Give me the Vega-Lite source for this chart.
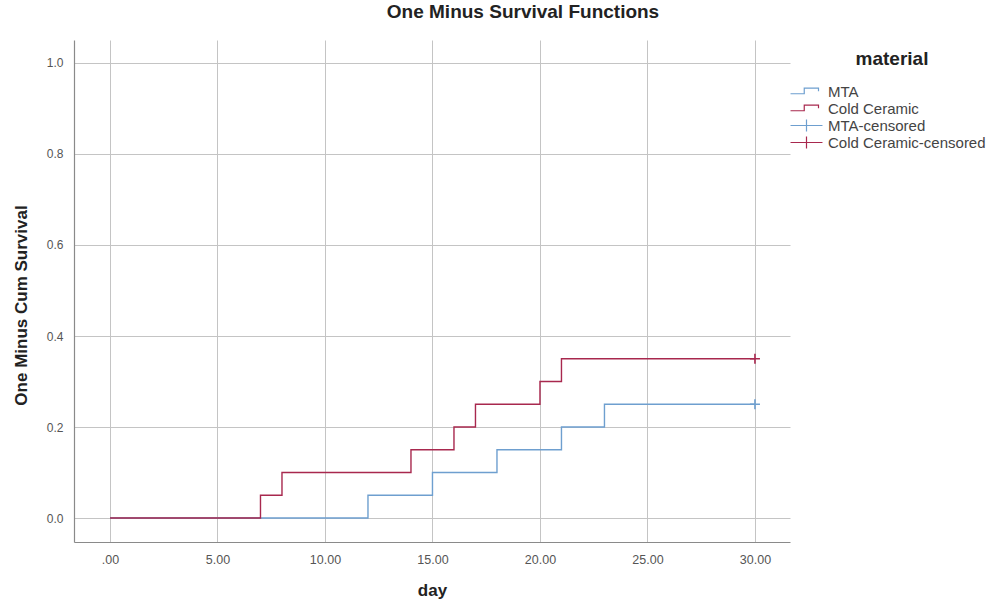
{
  "$schema": "https://vega.github.io/schema/vega-lite/v6.json",
  "autosize": {"type": "none"},
  "padding": {"left": 74, "top": 40, "right": 207, "bottom": 62},
  "width": 716,
  "height": 502,
  "background": "white",
  "title": {
    "text": "One Minus Survival Functions",
    "anchor": "middle",
    "dx": 91,
    "offset": 18,
    "fontSize": 19,
    "fontWeight": "bold",
    "font": "Liberation Sans",
    "color": "#222222"
  },
  "datasets": {
    "curves": [
      {"day": 0, "value": 0, "material": "MTA"},
      {"day": 12, "value": 0.05, "material": "MTA"},
      {"day": 15, "value": 0.10, "material": "MTA"},
      {"day": 18, "value": 0.15, "material": "MTA"},
      {"day": 21, "value": 0.20, "material": "MTA"},
      {"day": 23, "value": 0.25, "material": "MTA"},
      {"day": 30, "value": 0.25, "material": "MTA"},
      {"day": 0, "value": 0, "material": "Cold Ceramic"},
      {"day": 7, "value": 0.05, "material": "Cold Ceramic"},
      {"day": 8, "value": 0.10, "material": "Cold Ceramic"},
      {"day": 14, "value": 0.15, "material": "Cold Ceramic"},
      {"day": 16, "value": 0.20, "material": "Cold Ceramic"},
      {"day": 17, "value": 0.25, "material": "Cold Ceramic"},
      {"day": 20, "value": 0.30, "material": "Cold Ceramic"},
      {"day": 21, "value": 0.35, "material": "Cold Ceramic"},
      {"day": 30, "value": 0.35, "material": "Cold Ceramic"}
    ],
    "censored": [
      {"day": 30, "value": 0.25, "material": "MTA-censored"},
      {"day": 30, "value": 0.35, "material": "Cold Ceramic-censored"}
    ]
  },
  "config": {
    "view": {"stroke": null},
    "axis": {
      "labelFont": "Liberation Sans",
      "labelFontSize": 12.5,
      "labelColor": "#555555",
      "titleFont": "Liberation Sans",
      "titleFontSize": 17,
      "titleFontWeight": "bold",
      "titleColor": "#222222",
      "domainColor": "#8a8a8a",
      "domainWidth": 1.2,
      "gridColor": "#c4c4c4",
      "gridWidth": 1,
      "ticks": false
    }
  },
  "encoding": {
    "x": {
      "field": "day",
      "type": "quantitative",
      "scale": {"domain": [-1.674, 31.63], "nice": false, "zero": false},
      "axis": {
        "title": "day",
        "values": [0, 5, 10, 15, 20, 25, 30],
        "labelExpr": "datum.value == 0 ? '.00' : format(datum.value, '.2f')",
        "labelPadding": 11,
        "titleX": 358,
        "titleY": 48,
        "titleAlign": "center",
        "titleBaseline": "middle"
      }
    },
    "y": {
      "field": "value",
      "type": "quantitative",
      "scale": {"domain": [-0.0527, 1.0505], "nice": false, "zero": false},
      "axis": {
        "title": "One Minus Cum Survival",
        "values": [0, 0.2, 0.4, 0.6, 0.8, 1.0],
        "format": ".1f",
        "labelFontSize": 12,
        "labelPadding": 11,
        "titleX": -53,
        "titleY": 265,
        "titleAngle": 270,
        "titleAlign": "center",
        "titleBaseline": "middle"
      }
    },
    "color": {
      "field": "material",
      "type": "nominal",
      "scale": {
        "domain": ["MTA", "Cold Ceramic", "MTA-censored", "Cold Ceramic-censored"],
        "range": ["#6e9fcf", "#a8284e", "#6e9fcf", "#a8284e"]
      },
      "legend": {
        "title": "material",
        "orient": "none",
        "legendX": 724,
        "legendY": 10,
        "padding": 0,
        "titleFont": "Liberation Sans",
        "titleFontSize": 19,
        "titleFontWeight": "bold",
        "titleColor": "#222222",
        "titleAnchor": "middle",
        "titlePadding": 14,
        "labelFont": "Liberation Sans",
        "labelFontSize": 15,
        "labelLimit": 0,
        "labelColor": "#444444",
        "labelOffset": 13,
        "symbolSize": 225,
        "rowPadding": 0,
        "gridAlign": "all",
        "symbolStrokeWidth": 1.2,
        "encode": {
          "symbols": {
            "update": {
              "shape": {"signal": "(datum.value == 'MTA' || datum.value == 'Cold Ceramic') ? 'M-2.13,0.3H-0.3V-0.45H1.6V-0.05' : 'M-2.13,0H2.13M0,-0.8V0.8'"},
              "fill": {"value": "transparent"},
              "stroke": {"scale": "color", "field": "value"},
              "strokeWidth": {"value": 1.2}
            }
          }
        }
      }
    }
  },
  "layer": [
    {
      "data": {"name": "curves"},
      "mark": {"type": "line", "interpolate": "step-after", "strokeWidth": 1.4}
    },
    {
      "data": {"name": "censored"},
      "mark": {"type": "point", "shape": "M-1,0H1M0,-1V1", "size": 100, "filled": false, "strokeWidth": 1.6, "opacity": 1}
    }
  ]
}
